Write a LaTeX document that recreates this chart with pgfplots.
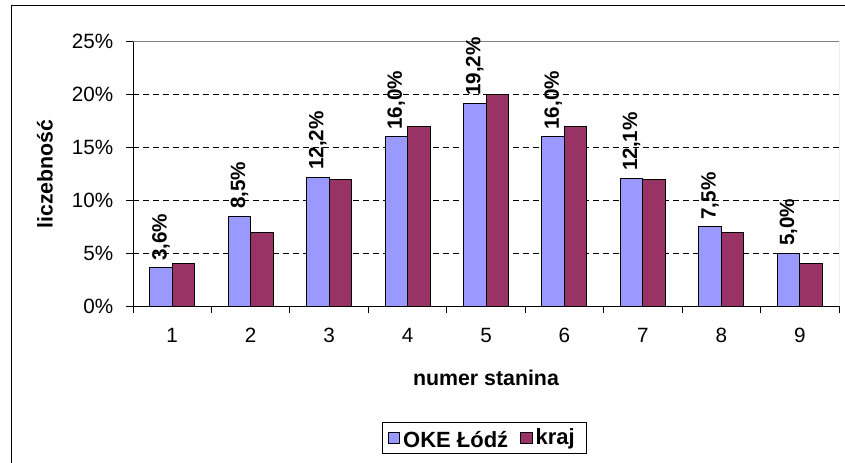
\documentclass[border=0pt]{standalone}
\usepackage{pgfplots}
\pgfplotsset{compat=1.18}
\usepackage{fontspec}
\setmainfont{Liberation Sans}
\definecolor{okeblue}{HTML}{9999FF}
\definecolor{krajred}{HTML}{993366}
\definecolor{bordergray}{HTML}{808080}

\pgfplotstableread{
x oke kraj
1 3.6 4
2 8.5 7
3 12.2 12
4 16.0 17
5 19.2 20
6 16.0 17
7 12.1 12
8 7.5 7
9 5.0 4
}\datatable

\begin{document}
\begin{tikzpicture}
\useasboundingbox (0pt,0pt) rectangle (633.75pt,346.5pt);
\draw[line width=0.75pt,black] (8.25pt,-10pt) -- (8.25pt,342.2pt) -- (660pt,342.2pt);
\begin{axis}[
  at={(99.75pt,117pt)}, anchor=south west,
  scale only axis, width=529.5pt, height=198.2pt,
  xmin=0.5, xmax=9.5, ymin=0, ymax=25,
  ybar=0pt, bar width=16.9pt,
  axis line style={draw=none},
  tick pos=left, tick align=outside,
  major tick length=5.25pt, minor tick length=5.25pt,
  xtick={1,...,9}, xticklabels={1,2,3,4,5,6,7,8,9},
  every major x tick/.append style={draw=none},
  minor xtick={0.5,1.5,...,9.5},
  ytick={0,5,...,25}, yticklabels={0\%,5\%,10\%,15\%,20\%,25\%},
  every tick/.append style={black, line width=0.75pt},
  ymajorgrids,
  major grid style={black, line width=0.75pt, dash pattern=on 4.5pt off 3pt},
  tick label style={font=\fontsize{15.5}{18}\selectfont},
  xticklabel style={yshift=-8pt},
  yticklabel style={xshift=-6pt},
  xlabel={numer stanina}, ylabel={liczebność},
  label style={font=\fontsize{16}{19}\selectfont\bfseries},
  xlabel style={at={(axis description cs:0.5,-0.2724)}, anchor=center},
  ylabel style={at={(axis description cs:-0.1246,0.5)}, anchor=center},
  legend columns=2,
  legend style={at={(0.498,-0.4994)}, anchor=center, draw=black, line width=0.75pt,
    font=\fontsize{16.5}{19}\selectfont\bfseries, inner xsep=4pt, inner ysep=1pt},
  legend image code/.code={\draw[#1, line width=0.75pt] (0pt,-4.4pt) rectangle (8.8pt,4.4pt);},
]
\addplot[fill=okeblue, draw=black, line width=0.75pt,
  nodes near coords={\pgfmathprintnumber[fixed,precision=1,zerofill,use comma,assume math mode=true]{\pgfplotspointmeta}\%},
  every node near coord/.append style={rotate=90, anchor=west, black, font=\fontsize{15.5}{18}\selectfont\bfseries, inner sep=5pt}]
  table[x=x, y=oke] {\datatable};
\addplot[fill=krajred, draw=black, line width=0.75pt] table[x=x, y=kraj] {\datatable};
\legend{\rule[-7pt]{0pt}{23pt}OKE Łódź\kern7pt, kraj\kern3pt}
\draw[bordergray, line width=0.75pt] (rel axis cs:0,1) -- (rel axis cs:1,1) -- (rel axis cs:1,0);
\draw[black, line width=0.75pt] (rel axis cs:0,1) -- (rel axis cs:0,0) -- (rel axis cs:1,0);
\end{axis}
\end{tikzpicture}
\end{document}
